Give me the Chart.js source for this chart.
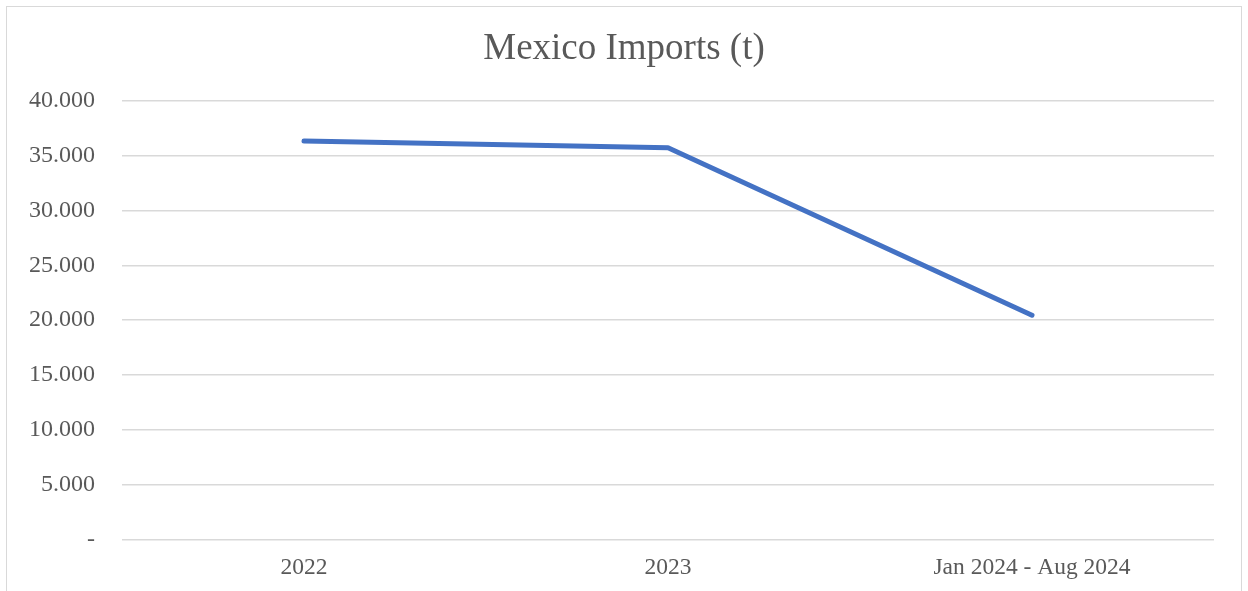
<!DOCTYPE html>
<html>
<head>
<meta charset="utf-8">
<script src="https://cdn.jsdelivr.net/npm/chart.js@4/dist/chart.umd.min.js"></script>
<style>
  html, body { margin: 0; padding: 0; background: #ffffff; }
  #wrap { position: relative; width: 1248px; height: 591px; overflow: hidden; }
  #frame { position: absolute; left: 6px; top: 6px; width: 1234px; height: 600px; border: 1.5px solid #d9d9d9; }
  #chart { position: absolute; left: 0; top: 0; }
</style>
</head>
<body>
<div id="wrap">
  <div id="frame"></div>
  <canvas id="chart" width="1248" height="591"></canvas>
</div>
<script>
// Mexico imports in tonnes
const categories = ['2022', '2023', 'Jan 2024 - Aug 2024'];
const imports = [36300, 35700, 20450];
const yTicks = [0, 5000, 10000, 15000, 20000, 25000, 30000, 35000, 40000];

const textColor = '#595959';
const gridColor = '#d9d9d9';
const fontFamily = '"Liberation Serif", "Times New Roman", serif';

// thousands with a dot, zero shown as a dash
function formatTick(v) {
    if (v === 0) return '-';
    return String(v).replace(/\B(?=(\d{3})+(?!\d))/g, '.');
}

new Chart(document.getElementById('chart').getContext('2d'), {
    type: 'line',
    data: {
        labels: categories,
        datasets: [{
            label: 'Mexico Imports (t)',
            data: imports,
            borderColor: '#4472C4',
            backgroundColor: '#4472C4',
            borderWidth: 5,
            borderCapStyle: 'round',
            borderJoinStyle: 'round',
            pointRadius: 0,
            tension: 0,
            fill: false
        }]
    },
    options: {
        responsive: false,
        animation: false,
        layout: { padding: 0 },
        plugins: {
            legend: { display: false },
            tooltip: { enabled: false },
            title: {
                display: true,
                text: 'Mexico Imports (t)',
                color: textColor,
                font: { family: fontFamily, size: 37, weight: 'normal', lineHeight: 1.2 },
                padding: { top: 27, bottom: 29 }
            }
        },
        scales: {
            x: {
                offset: true,
                grid: { display: false, drawTicks: false },
                border: { display: false },
                ticks: {
                    color: textColor,
                    font: { family: fontFamily, size: 23.5 },
                    padding: 14,
                    maxRotation: 0,
                    autoSkip: false
                },
                afterFit: scale => { scale.height = 51; }
            },
            y: {
                min: 0,
                max: 40000,
                afterBuildTicks: scale => { scale.ticks = yTicks.map(v => ({ value: v })); },
                grid: { color: gridColor, lineWidth: 1.5, drawTicks: false },
                border: { display: false },
                ticks: {
                    color: textColor,
                    font: { family: fontFamily, size: 24 },
                    padding: 27,
                    callback: v => formatTick(v)
                },
                afterFit: scale => { scale.width = 122; }
            },
            // empty right margin so the title stays centred on the whole frame
            yRight: {
                position: 'right',
                min: 0,
                max: 40000,
                grid: { display: false, drawTicks: false },
                border: { display: false },
                ticks: { display: false },
                afterFit: scale => { scale.width = 34; }
            }
        }
    }
});
</script>
</body>
</html>
